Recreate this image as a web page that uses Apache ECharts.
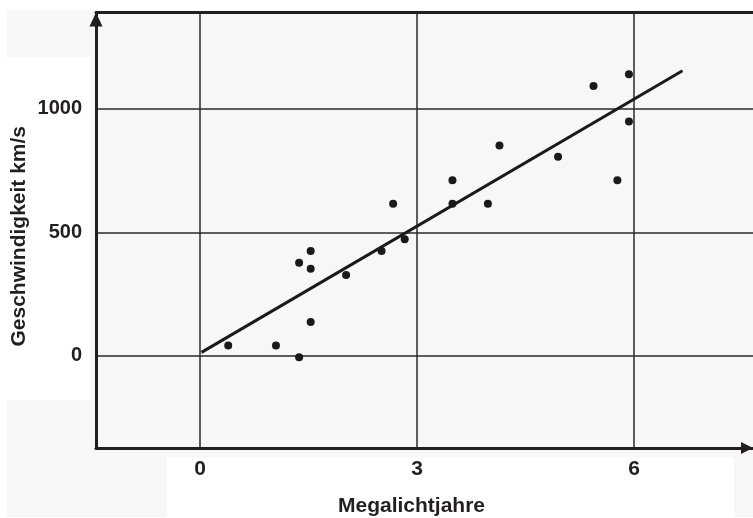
<!DOCTYPE html>
<html>
<head>
<meta charset="utf-8">
<script src="https://cdn.jsdelivr.net/npm/echarts@6/dist/echarts.min.js"></script>
<style>
  html, body { margin: 0; padding: 0; background: #fff; }
  #chart { width: 753px; height: 518px; }
</style>
</head>
<body>
<div id="chart"></div>
<script>
// Hubble-Diagramm: Entfernung (Megalichtjahre) gegen Fluchtgeschwindigkeit (km/s)
const distances = [0.39, 1.05, 1.37, 1.53, 1.37, 1.53, 1.53, 2.02, 2.51, 2.83,
                   2.67, 3.49, 3.49, 3.98, 4.14, 4.95, 5.44, 5.93, 5.93, 5.77];
const velocities = [42, 42, -6, 137, 377, 424, 353, 327, 424, 472,
                    616, 711, 616, 616, 852, 806, 1092, 1140, 949, 711];
const fitX = [0.02, 6.67];
const fitY = [14, 1154];
const xTicks = [0, 3, 6];
const yTicks = [0, 500, 1000];

const font = '"Liberation Sans", Arial, Helvetica, sans-serif';
const ink = '#231f20';

const chart = echarts.init(document.getElementById('chart'));

const points = distances.map((d, i) => [d, velocities[i]]);
const fitLine = fitX.map((x, i) => [x, fitY[i]]);

const option = {
  backgroundColor: '#ffffff',
  animation: false,
  graphic: {
    elements: [
      { type: 'rect', z: -100, silent: true, shape: { x: 7, y: 10, width: 746, height: 507 }, style: { fill: '#f7f7f7' } },
      { type: 'rect', z: -99, silent: true, shape: { x: 7, y: 57, width: 83, height: 343 }, style: { fill: '#ffffff' } },
      { type: 'rect', z: -99, silent: true, shape: { x: 167, y: 457, width: 567, height: 61 }, style: { fill: '#ffffff' } }
    ]
  },
  grid: { left: 96, right: 0, top: 12.5, bottom: 70, containLabel: false, outerBoundsMode: 'none' },
  xAxis: [
    {
      type: 'value',
      min: -1.438,
      max: 7.645,
      name: 'Megalichtjahre',
      nameLocation: 'middle',
      nameGap: 48,
      nameMoveOverlap: false,
      nameTextStyle: { fontFamily: font, fontWeight: 'bold', fontSize: 21, color: ink, padding: [0, 26, 0, 0] },
      axisLine: {
        onZero: false,
        symbol: ['none', 'triangle'],
        symbolSize: [12, 12],
        symbolOffset: [0, -6],
        lineStyle: { color: ink, width: 3 }
      },
      axisTick: { show: false, customValues: xTicks },
      axisLabel: { customValues: xTicks, margin: 11, fontFamily: font, fontWeight: 'bold', fontSize: 21, color: ink,
                   formatter: v => String(v) },
      splitLine: { show: true, lineStyle: { color: '#2a2a2a', width: 1.5 } }
    },
    {
      type: 'value',
      position: 'top',
      min: -1.438,
      max: 7.645,
      axisLine: { onZero: false, lineStyle: { color: ink, width: 3 } },
      axisTick: { show: false },
      axisLabel: { show: false },
      splitLine: { show: false }
    }
  ],
  yAxis: {
    type: 'value',
    min: -373,
    max: 1390,
    name: 'Geschwindigkeit km/s',
    nameLocation: 'middle',
    nameGap: 66,
    nameMoveOverlap: false,
    nameTextStyle: { fontFamily: font, fontWeight: 'bold', fontSize: 21, color: ink, padding: [0, 12, 0, 0] },
    axisLine: {
      onZero: false,
      symbol: ['none', 'triangle'],
      symbolSize: [13, 14],
      symbolOffset: [0, -7],
      lineStyle: { color: ink, width: 3 }
    },
    axisTick: { show: false, customValues: yTicks },
    axisLabel: { customValues: yTicks, margin: 14, fontFamily: font, fontWeight: 'bold', fontSize: 20, color: ink,
                 formatter: v => String(v) },
    splitLine: { show: true, lineStyle: { color: '#2a2a2a', width: 1.5 } }
  },
  series: [
    {
      type: 'line',
      data: fitLine,
      symbol: 'none',
      lineStyle: { color: '#1a1a1a', width: 3 },
      z: 3
    },
    {
      type: 'scatter',
      data: points,
      symbolSize: 8,
      itemStyle: { color: '#1a1a1a', opacity: 1 },
      z: 4
    }
  ]
};

chart.setOption(option);
</script>
</body>
</html>
